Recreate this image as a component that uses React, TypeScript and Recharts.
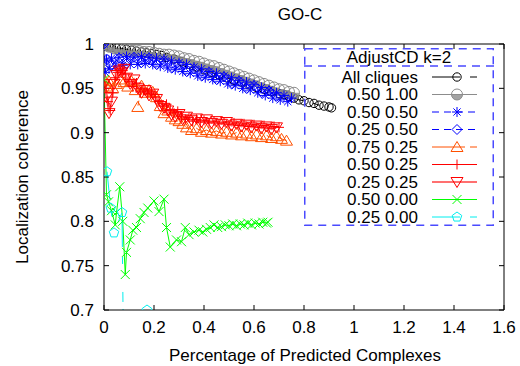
import React from "react"
import { LineChart, Line, XAxis, YAxis, Legend } from "recharts"

// Localization coherence vs share of predicted complexes (GO-C)
const allCliquesX = [0, 0.01, 0.02, 0.03, 0.05, 0.07, 0.09, 0.11, 0.13, 0.15, 0.17, 0.19, 0.21, 0.23, 0.25, 0.28, 0.31, 0.34, 0.37, 0.4, 0.43, 0.46, 0.49, 0.52, 0.55, 0.58, 0.61, 0.64, 0.67, 0.7, 0.72, 0.74, 0.76, 0.78, 0.8, 0.82, 0.84, 0.86, 0.88, 0.9, 0.91]
const allCliquesY = [1.0, 0.998, 0.997, 0.996, 0.995, 0.995, 0.994, 0.993, 0.992, 0.991, 0.99, 0.989, 0.988, 0.987, 0.985, 0.983, 0.98, 0.977, 0.974, 0.971, 0.968, 0.965, 0.962, 0.959, 0.957, 0.954, 0.951, 0.949, 0.946, 0.944, 0.943, 0.941, 0.939, 0.937, 0.936, 0.934, 0.933, 0.931, 0.93, 0.929, 0.928]

const s050_100X = [0, 0.02, 0.04, 0.06, 0.08, 0.1, 0.12, 0.14, 0.16, 0.18, 0.2, 0.22, 0.24, 0.26, 0.28, 0.3, 0.32, 0.34, 0.36, 0.38, 0.4, 0.42, 0.44, 0.46, 0.48, 0.5, 0.52, 0.54, 0.56, 0.58, 0.6, 0.62, 0.64, 0.66, 0.68, 0.7, 0.72, 0.74, 0.76]
const s050_100Y = [1.0, 0.997, 0.995, 0.994, 0.993, 0.993, 0.992, 0.992, 0.991, 0.991, 0.99, 0.989, 0.988, 0.988, 0.987, 0.986, 0.984, 0.983, 0.981, 0.98, 0.978, 0.976, 0.975, 0.973, 0.971, 0.969, 0.967, 0.965, 0.963, 0.961, 0.959, 0.957, 0.955, 0.953, 0.951, 0.949, 0.948, 0.946, 0.945]

const s050_050X = [0, 0.005, 0.01, 0.02, 0.03, 0.045, 0.06, 0.075, 0.09, 0.105, 0.12, 0.135, 0.15, 0.165, 0.18, 0.195, 0.21, 0.225, 0.24, 0.255, 0.27, 0.285, 0.3, 0.315, 0.33, 0.345, 0.36, 0.375, 0.39, 0.405, 0.42, 0.435, 0.45, 0.465, 0.48, 0.495, 0.51, 0.525, 0.54, 0.555, 0.57, 0.585, 0.6, 0.615, 0.63, 0.645, 0.66, 0.675, 0.69, 0.705, 0.72, 0.735, 0.75]
const s050_050Y = [1.0, 0.968, 0.982, 0.972, 0.984, 0.975, 0.985, 0.976, 0.986, 0.977, 0.985, 0.977, 0.986, 0.978, 0.985, 0.977, 0.984, 0.975, 0.983, 0.973, 0.981, 0.971, 0.979, 0.969, 0.977, 0.967, 0.974, 0.964, 0.972, 0.962, 0.969, 0.96, 0.967, 0.958, 0.964, 0.955, 0.962, 0.953, 0.959, 0.95, 0.957, 0.948, 0.954, 0.945, 0.951, 0.942, 0.948, 0.939, 0.945, 0.937, 0.942, 0.935, 0.939]

const s025_050X = [0, 0.01, 0.03, 0.06, 0.09, 0.12, 0.15, 0.18, 0.21, 0.24, 0.27, 0.3, 0.33, 0.36, 0.39, 0.42, 0.45, 0.48, 0.51, 0.54, 0.57, 0.6, 0.63, 0.66, 0.69]
const s025_050Y = [1.0, 0.983, 0.976, 0.984, 0.978, 0.985, 0.979, 0.984, 0.977, 0.981, 0.973, 0.977, 0.969, 0.972, 0.964, 0.968, 0.96, 0.963, 0.955, 0.958, 0.95, 0.953, 0.945, 0.947, 0.941]

const s075_025X = [0, 0.01, 0.02, 0.035, 0.05, 0.065, 0.08, 0.095, 0.11, 0.125, 0.135, 0.15, 0.165, 0.18, 0.195, 0.21, 0.225, 0.24, 0.255, 0.27, 0.285, 0.3, 0.315, 0.33, 0.35, 0.37, 0.39, 0.41, 0.43, 0.45, 0.47, 0.49, 0.51, 0.53, 0.55, 0.57, 0.59, 0.61, 0.63, 0.65, 0.67, 0.69, 0.71, 0.73]
const s075_025Y = [0.96, 0.952, 0.958, 0.95, 0.955, 0.96, 0.957, 0.952, 0.958, 0.948, 0.929, 0.953, 0.945, 0.948, 0.946, 0.94, 0.93, 0.922, 0.925, 0.918, 0.915, 0.913, 0.91, 0.906, 0.903, 0.905, 0.901, 0.903, 0.9, 0.902, 0.899, 0.901, 0.898, 0.9, 0.897, 0.899, 0.896, 0.898, 0.895, 0.897, 0.894, 0.896, 0.893, 0.891]

const s050_025X = [0, 0.008, 0.016, 0.025, 0.035, 0.045, 0.055, 0.065, 0.075, 0.085, 0.1, 0.115, 0.13, 0.145, 0.16, 0.175, 0.19, 0.205, 0.22, 0.235, 0.25, 0.265, 0.28, 0.295, 0.31, 0.325, 0.34, 0.355, 0.37, 0.385, 0.4, 0.42, 0.44, 0.46, 0.48, 0.5, 0.52, 0.54, 0.56, 0.58, 0.6, 0.62, 0.64, 0.66, 0.68, 0.7]
const s050_025Y = [0.957, 0.95, 0.935, 0.925, 0.945, 0.962, 0.968, 0.972, 0.97, 0.966, 0.958, 0.952, 0.956, 0.946, 0.949, 0.944, 0.946, 0.94, 0.936, 0.93, 0.932, 0.926, 0.922, 0.924, 0.918, 0.915, 0.917, 0.913, 0.915, 0.912, 0.914, 0.911, 0.913, 0.91, 0.912, 0.909, 0.911, 0.908, 0.91, 0.907, 0.909, 0.906, 0.908, 0.905, 0.907, 0.906]

const s025_025X = [0, 0.01, 0.02, 0.03, 0.04, 0.05, 0.06, 0.07, 0.08, 0.09, 0.105, 0.12, 0.135, 0.15, 0.165, 0.18, 0.195, 0.21, 0.225, 0.24, 0.255, 0.27, 0.285, 0.3, 0.315, 0.33, 0.35, 0.37, 0.39, 0.41, 0.43, 0.45, 0.47, 0.49, 0.51, 0.53, 0.55, 0.57, 0.59, 0.61, 0.63, 0.65, 0.67, 0.69]
const s025_025Y = [0.955, 0.94, 0.922, 0.935, 0.955, 0.965, 0.97, 0.968, 0.972, 0.962, 0.955, 0.96, 0.95, 0.945, 0.948, 0.942, 0.944, 0.938, 0.93, 0.928, 0.925, 0.92, 0.918, 0.921, 0.915, 0.918, 0.914, 0.916, 0.912, 0.915, 0.911, 0.913, 0.91, 0.912, 0.908, 0.91, 0.907, 0.909, 0.906, 0.908, 0.905, 0.907, 0.904, 0.906]

const s050_000X = [0, 0.01, 0.018, 0.03, 0.045, 0.05, 0.063, 0.075, 0.085, 0.09, 0.105, 0.115, 0.13, 0.145, 0.16, 0.175, 0.2, 0.22, 0.24, 0.25, 0.265, 0.29, 0.31, 0.325, 0.34, 0.36, 0.38, 0.395, 0.41, 0.425, 0.44, 0.455, 0.47, 0.485, 0.5, 0.515, 0.53, 0.545, 0.56, 0.575, 0.59, 0.605, 0.62, 0.635, 0.65, 0.656]
const s050_000Y = [0.96, 0.83, 0.822, 0.812, 0.796, 0.81, 0.839, 0.8, 0.74, 0.765, 0.779, 0.79, 0.793, 0.803, 0.81, 0.815, 0.823, 0.811, 0.825, 0.793, 0.771, 0.779, 0.777, 0.793, 0.785, 0.788, 0.79, 0.788, 0.791, 0.793, 0.796, 0.793, 0.794, 0.796, 0.795, 0.797, 0.795, 0.797, 0.796, 0.798, 0.796, 0.798, 0.797, 0.799, 0.798, 0.799]

const s025_000X = [0.012, 0.027, 0.04, 0.072, 0.08, 0.172]
const s025_000Y = [0.856, 0.815, 0.787, 0.81, 0.6, 0.7]

const xTicks = [0, 0.2, 0.4, 0.6, 0.8, 1, 1.2, 1.4, 1.6]
const yTicks = [0.7, 0.75, 0.8, 0.85, 0.9, 0.95, 1]

const legendTitle = "AdjustCD k=2"

type MarkerKind = "circle" | "halfCircle" | "star" | "diamond" | "triUp" | "plus" | "triDown" | "cross" | "pentagon"

interface SeriesDef {
  name: string
  xs: number[]
  ys: number[]
  color: string
  markColor: string
  marker: MarkerKind
  dash?: string
  width?: number
}

const series: SeriesDef[] = [
  { name: "All cliques", xs: allCliquesX, ys: allCliquesY, color: "#000000", markColor: "#000000", marker: "circle", dash: "28 10 7" },
  { name: "0.50 1.00", xs: s050_100X, ys: s050_100Y, color: "#8c8c8c", markColor: "#8c8c8c", marker: "halfCircle" },
  { name: "0.50 0.50", xs: s050_050X, ys: s050_050Y, color: "#0000ff", markColor: "#0000ff", marker: "star", dash: "7 5" },
  { name: "0.25 0.50", xs: s025_050X, ys: s025_050Y, color: "#0000ff", markColor: "#0000ff", marker: "diamond", dash: "7 5" },
  { name: "0.75 0.25", xs: s075_025X, ys: s075_025Y, color: "#ff5000", markColor: "#ff5000", marker: "triUp", dash: "33 5 7" },
  { name: "0.50 0.25", xs: s050_025X, ys: s050_025Y, color: "#ff0000", markColor: "#ff0000", marker: "plus" },
  { name: "0.25 0.25", xs: s025_025X, ys: s025_025Y, color: "#ff7070", markColor: "#ff0000", marker: "triDown", width: 2 },
  { name: "0.50 0.00", xs: s050_000X, ys: s050_000Y, color: "#00ff00", markColor: "#00ff00", marker: "cross" },
  { name: "0.25 0.00", xs: s025_000X, ys: s025_000Y, color: "#00eeee", markColor: "#00eeee", marker: "pentagon", dash: "28 10 7" },
]

const toPoints = (xs: number[], ys: number[]) => xs.map((x, i) => ({ x, y: ys[i] }))

function Marker({ kind, cx, cy, color }: { kind: MarkerKind; cx: number; cy: number; color: string }) {
  switch (kind) {
    case "circle":
      return <circle cx={cx} cy={cy} r={4.2} fill="none" stroke={color} strokeWidth={1} />
    case "halfCircle":
      return (
        <g>
          <circle cx={cx} cy={cy} r={5.5} fill="none" stroke={color} strokeWidth={1} />
          <path d={`M${cx - 5.5},${cy} A5.5,5.5 0 0,0 ${cx + 5.5},${cy} Z`} fill={color} opacity={0.8} />
        </g>
      )
    case "star": {
      const s = 5
      const d = 3.6
      return (
        <path
          d={`M${cx - s},${cy}H${cx + s}M${cx},${cy - s}V${cy + s}M${cx - d},${cy - d}L${cx + d},${cy + d}M${cx - d},${cy + d}L${cx + d},${cy - d}`}
          stroke={color}
          strokeWidth={1}
        />
      )
    }
    case "diamond":
      return <path d={`M${cx},${cy - 5}L${cx + 5},${cy}L${cx},${cy + 5}L${cx - 5},${cy}Z`} fill="none" stroke={color} />
    case "triUp":
      return <path d={`M${cx},${cy - 5.5}L${cx + 6},${cy + 4.5}L${cx - 6},${cy + 4.5}Z`} fill="none" stroke={color} />
    case "triDown":
      return <path d={`M${cx},${cy + 5.5}L${cx + 6},${cy - 4.5}L${cx - 6},${cy - 4.5}Z`} fill="none" stroke={color} />
    case "plus":
      return <path d={`M${cx - 5},${cy}H${cx + 5}M${cx},${cy - 5}V${cy + 5}`} stroke={color} />
    case "cross":
      return <path d={`M${cx - 4.5},${cy - 4.5}L${cx + 4.5},${cy + 4.5}M${cx - 4.5},${cy + 4.5}L${cx + 4.5},${cy - 4.5}`} stroke={color} />
    case "pentagon": {
      const pts = [0, 1, 2, 3, 4]
        .map((k) => {
          const a = -Math.PI / 2 + (k * 2 * Math.PI) / 5
          return `${cx + 5 * Math.cos(a)},${cy + 5 * Math.sin(a)}`
        })
        .join(" ")
      return <polygon points={pts} fill="none" stroke={color} />
    }
  }
  return null
}

const FONT = "'Liberation Sans', Arial, Helvetica, sans-serif"
const FS = 17

function LegendBox() {
  const rowY = (i: number) => 29 + i * 17.5
  return (
    <svg width={190} height={178} style={{ display: "block", fontFamily: FONT }}>
      <rect x={0.75} y={0.75} width={188.5} height={176.5} fill="none" stroke="#4a4aff" strokeWidth={1.5} strokeDasharray="8 6" />
      <text x={95} y={9.5} textAnchor="middle" dominantBaseline="central" fontSize={FS} fill="#000">
        {legendTitle}
      </text>
      <line x1={0} y1={18} x2={190} y2={18} stroke="#4a4aff" strokeWidth={1.5} strokeDasharray="8 6" />
      {series.map((s, i) => (
        <g key={s.name}>
          <text x={114} y={rowY(i)} textAnchor="end" dominantBaseline="central" fontSize={FS} fill="#000">
            {s.name}
          </text>
          <line x1={128} y1={rowY(i)} x2={173} y2={rowY(i)} stroke={s.color} strokeWidth={s.width ?? 1} strokeDasharray={s.dash} />
          <Marker kind={s.marker} cx={153} cy={rowY(i)} color={s.markColor} />
        </g>
      ))}
    </svg>
  )
}

const axisTick = { fill: "#000", fontSize: FS, fontFamily: FONT }

export default function App() {
  return (
    <>
      <style>{"body { margin: 0; }"}</style>
      <LineChart width={520} height={366} margin={{ top: 0, right: 0, bottom: 0, left: 0 }} style={{ fontFamily: FONT }}>
        <XAxis
          dataKey="x"
          type="number"
          domain={[0, 1.6]}
          ticks={xTicks}
          interval={0}
          allowDataOverflow
          height={56}
          stroke="#000"
          tickSize={-5}
          tickMargin={16}
          tick={axisTick}
          label={() => (
            <text x={305} y={355} textAnchor="middle" dominantBaseline="central" fontSize={FS} fill="#000" fontFamily={FONT}>
              Percentage of Predicted Complexes
            </text>
          )}
        />
        <XAxis
          xAxisId="top"
          orientation="top"
          dataKey="x"
          type="number"
          domain={[0, 1.6]}
          ticks={xTicks}
          interval={0}
          allowDataOverflow
          height={44}
          stroke="#000"
          tickSize={-5}
          tickFormatter={() => ""}
          label={() => (
            <text x={300} y={14} textAnchor="middle" dominantBaseline="central" fontSize={FS} fill="#000" fontFamily={FONT}>
              GO-C
            </text>
          )}
        />
        <YAxis
          dataKey="y"
          type="number"
          domain={[0.7, 1]}
          ticks={yTicks}
          interval={0}
          allowDataOverflow
          width={104}
          stroke="#000"
          tickSize={-5}
          tickMargin={15}
          tick={axisTick}
          label={() => (
            <text
              x={22}
              y={177}
              textAnchor="middle"
              dominantBaseline="central"
              fontSize={FS}
              fill="#000"
              fontFamily={FONT}
              transform="rotate(-90 22 177)"
            >
              Localization coherence
            </text>
          )}
        />
        <YAxis
          yAxisId="right"
          orientation="right"
          type="number"
          domain={[0.7, 1]}
          ticks={yTicks}
          interval={0}
          allowDataOverflow
          width={16}
          stroke="#000"
          tickSize={-5}
          tickFormatter={() => ""}
        />
        <Legend
          layout="horizontal"
          verticalAlign="middle"
          align="center"
          wrapperStyle={{ left: 304, top: 48, width: 190, height: 178 }}
          content={() => <LegendBox />}
        />
        {series.map((s) => (
          <Line
            key={s.name}
            name={s.name}
            data={toPoints(s.xs, s.ys)}
            dataKey="y"
            type="linear"
            stroke={s.color}
            strokeWidth={s.width ?? 1}
            strokeDasharray={s.dash}
            isAnimationActive={false}
            activeDot={false}
            legendType="none"
            dot={(p: any) =>
              p.cx == null || p.cy == null ? (
                <g key={`${s.name}-${p.index}`} />
              ) : (
                <Marker key={`${s.name}-${p.index}`} kind={s.marker} cx={p.cx} cy={p.cy} color={s.markColor} />
              )
            }
          />
        ))}
      </LineChart>
    </>
  )
}
